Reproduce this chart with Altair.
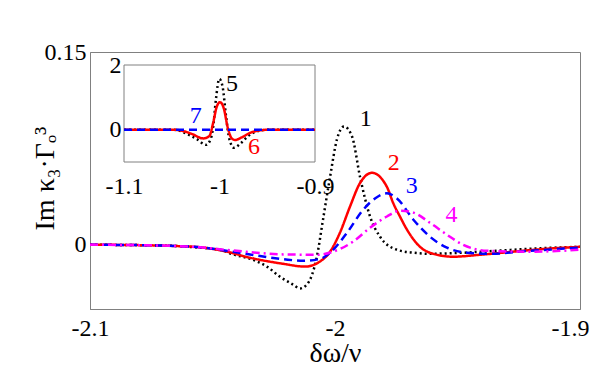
import altair as alt
import pandas as pd

# ---------------- main plot data ----------------
main_x_ticks = [-2.1, -2.0, -1.9]
main_y_ticks = [0, 0.15]
main_x_domain = [-2.1, -1.9]
main_y_domain = [-0.05, 0.15]

x1 = [-2.1, -2.08, -2.065, -2.055, -2.047, -2.0416, -2.0335, -2.0278, -2.0224, -2.0171,
      -2.0143, -2.0115, -2.0095, -2.0074, -2.0049, -2.002, -1.9992, -1.9963, -1.993, -1.9898,
      -1.9857, -1.9816, -1.9747, -1.968, -1.9612, -1.9478, -1.934, -1.9204, -1.9]
y1 = [0, -0.0003, -0.001, -0.0023, -0.0039, -0.0075, -0.0117, -0.017, -0.025, -0.031,
      -0.034, -0.031, -0.024, -0.0093, 0.0195, 0.053, 0.082, 0.092, 0.084, 0.053,
      0.022, 0.0062, -0.0039, -0.0062, -0.007, -0.0062, -0.0047, -0.0031, -0.0016]

x2 = [-2.1, -2.08, -2.065, -2.055, -2.045, -2.0347, -2.0212, -2.0122, -2.0061, -2.002,
      -1.998, -1.9939, -1.9898, -1.9849, -1.9788, -1.9763, -1.9735, -1.9706, -1.9653, -1.96,
      -1.9518, -1.9408, -1.9273, -1.9135, -1.9]
y2 = [0, -0.0003, -0.001, -0.002, -0.005, -0.0101, -0.0148, -0.017, -0.013, -0.0054,
      0.0093, 0.0296, 0.048, 0.056, 0.045, 0.0327, 0.022, 0.0117, -0.0016, -0.007,
      -0.0093, -0.0078, -0.0054, -0.0031, -0.0016]

x3 = [-2.1, -2.08, -2.065, -2.055, -2.0416, -2.0212, -2.013, -2.006, -2.002, -1.9951,
      -1.9886, -1.9829, -1.9788, -1.9747, -1.968, -1.9612, -1.9543, -1.9461, -1.9367, -1.9204,
      -1.9]
y3 = [0, -0.0003, -0.001, -0.002, -0.0055, -0.0112, -0.0125, -0.011, -0.0062, 0.0093,
      0.027, 0.037, 0.040, 0.036, 0.0195, 0.0062, -0.0023, -0.0062, -0.007, -0.0047,
      -0.0023]

x4 = [-2.1, -2.08, -2.065, -2.055, -2.0416, -2.0212, -2.0074, -2.0008, -1.9927, -1.9857,
      -1.9788, -1.9735, -1.968, -1.9612, -1.9543, -1.9478, -1.938, -1.9204, -1.9]
y4 = [0, -0.0003, -0.001, -0.002, -0.0045, -0.0075, -0.0078, -0.0054, 0.0023, 0.0132,
      0.022, 0.0265, 0.025, 0.017, 0.0078, 0.0, -0.0047, -0.0054, -0.0039]

main_label_text = ["1", "2", "3", "4"]
main_label_x = [-1.9875, -1.976, -1.9687, -1.9524]
main_label_y = [0.098, 0.064, 0.046, 0.0233]

# ---------------- inset data ----------------
inset_x_ticks = [-1.1, -1.0, -0.9]
inset_y_ticks = [0, 2]
inset_x_domain = [-1.1, -0.9]
inset_y_domain = [-1, 2]

x5 = [-1.1, -1.05, -1.0448, -1.0343, -1.0239, -1.0141, -1.0092, -1.0065, -1.0037, -1.0002,
      -0.9967, -0.9932, -0.9897, -0.9848, -0.9785, -0.9698, -0.9576, -0.95, -0.9]
y5 = [0, 0, -0.01, -0.13, -0.29, -0.47, -0.29, 0.12, 0.95, 1.57,
      1.32, 0.43, -0.29, -0.56, -0.44, -0.19, -0.03, 0, 0]

x6 = [-1.1, -1.05, -1.0414, -1.0291, -1.017, -1.0107, -1.0065, -1.003, -0.9995, -0.9953,
      -0.9918, -0.9872, -0.9838, -0.9768, -0.9681, -0.9541, -0.95, -0.9]
y6 = [0, 0, -0.02, -0.13, -0.27, -0.2, 0.23, 0.7, 0.85, 0.64,
      0.12, -0.27, -0.32, -0.24, -0.1, -0.01, 0, 0]

x7 = [-1.1, -0.9]
y7 = [0, 0]

inset_label_text = ["5", "6", "7"]
inset_label_x = [-0.987, -0.9639, -1.025]
inset_label_y = [1.4, -0.55, 0.43]

# ---------------- styles ----------------
series_ids = ["1", "2", "3", "4", "5", "6", "7"]
series_colors = ["#000000", "#ff0000", "#0000ff", "#ff00ff", "#000000", "#ff0000", "#0000ff"]
series_dash = [[2, 3], [1, 0], [8, 5], [8, 4, 2, 4], [2, 3], [1, 0], [8, 5]]
FONT = "Liberation Serif"
GRAY = "#808080"
LBL = dict(labelFont=FONT, labelFontSize=24, labelColor="black", labelFontWeight="normal",
           labelFlush=False, labelOverlap=False)


def long_df(series):
    rows = []
    for sid, xs, ys in series:
        for i, (a, b) in enumerate(zip(xs, ys)):
            rows.append({"s": sid, "x": a, "y": b, "o": i})
    return pd.DataFrame(rows)


main_df = long_df([("1", x1, y1), ("2", x2, y2), ("3", x3, y3), ("4", x4, y4)])
inset_df = long_df([("5", x5, y5), ("6", x6, y6), ("7", x7, y7)])
main_lab = pd.DataFrame({"s": main_label_text, "x": main_label_x, "y": main_label_y})
inset_lab = pd.DataFrame({"s": inset_label_text, "x": inset_label_x, "y": inset_label_y})
inset_box = pd.DataFrame({"x": [inset_x_domain[0]], "x1": [inset_x_domain[1]],
                          "y": [inset_y_domain[0]], "y1": [inset_y_domain[1]]})

color_scale = alt.Scale(domain=series_ids, range=series_colors)
dash_scale = alt.Scale(domain=series_ids, range=series_dash)

W, H = 490, 257
mx = alt.Scale(domain=main_x_domain, nice=False, zero=False)
my = alt.Scale(domain=main_y_domain, nice=False, zero=False)
ix = alt.Scale(domain=inset_x_domain, range=[34, 225], nice=False, zero=False)
iy = alt.Scale(domain=inset_y_domain, range=[110, 13], nice=False, zero=False)

last_x = "datum.value == %s" % main_x_ticks[-1]
main_xaxis = alt.Axis(values=main_x_ticks, title="δω/ν", labelExpr="'' + datum.value",
                      labelPadding=7, titleY=52, titleBaseline="alphabetic",
                      titleFont=FONT, titleFontSize=28, titleFontWeight="normal",
                      titleColor="black",
                      labelAlign={"condition": {"test": last_x, "value": "right"},
                                  "value": "center"},
                      labelOffset={"condition": {"test": last_x, "value": 9}, "value": 0},
                      **LBL)
main_yaxis = alt.Axis(values=main_y_ticks, title="Im κ₃·Γₒ³", labelExpr="'' + datum.value",
                      labelPadding=4, titleX=-37, titleY=126, titleAngle=270,
                      titleAlign="center", titleBaseline="alphabetic",
                      titleFont=FONT, titleFontSize=28, titleFontWeight="normal",
                      titleColor="black", **LBL)

main_lines = alt.Chart(main_df).mark_line(strokeWidth=2.5, interpolate="monotone").encode(
    x=alt.X("x:Q", scale=mx, axis=main_xaxis),
    y=alt.Y("y:Q", scale=my, axis=main_yaxis),
    color=alt.Color("s:N", scale=color_scale, legend=None),
    strokeDash=alt.StrokeDash("s:N", scale=dash_scale, legend=None),
    order="o:Q",
)
main_text = alt.Chart(main_lab).mark_text(font=FONT, fontSize=24, align="center",
                                           baseline="middle").encode(
    x=alt.X("x:Q", scale=mx),
    y=alt.Y("y:Q", scale=my),
    text="s:N",
    color=alt.Color("s:N", scale=color_scale, legend=None),
)
main = alt.layer(main_lines, main_text)

inset_xaxis = alt.Axis(values=inset_x_ticks, title=None, orient="bottom", offset=-147,
                       labelExpr="'' + datum.value", labelPadding=12, domain=False, **LBL)
inset_yaxis = alt.Axis(values=inset_y_ticks, title=None, orient="left", offset=-34,
                       labelExpr="'' + datum.value", labelPadding=3, domain=False, **LBL)

inset_rect = alt.Chart(inset_box).mark_rect(fill="white", stroke=GRAY, strokeWidth=1).encode(
    x=alt.X("x:Q", scale=ix, axis=inset_xaxis),
    x2="x1:Q",
    y=alt.Y("y:Q", scale=iy, axis=inset_yaxis),
    y2="y1:Q",
)
inset_lines = alt.Chart(inset_df).mark_line(strokeWidth=2.5, interpolate="monotone").encode(
    x=alt.X("x:Q", scale=ix),
    y=alt.Y("y:Q", scale=iy),
    color=alt.Color("s:N", scale=color_scale, legend=None),
    strokeDash=alt.StrokeDash("s:N", scale=dash_scale, legend=None),
    order="o:Q",
)
inset_text = alt.Chart(inset_lab).mark_text(font=FONT, fontSize=24, align="center",
                                             baseline="middle").encode(
    x=alt.X("x:Q", scale=ix),
    y=alt.Y("y:Q", scale=iy),
    text="s:N",
    color=alt.Color("s:N", scale=color_scale, legend=None),
)
inset = alt.layer(inset_rect, inset_lines, inset_text)

chart = alt.layer(main, inset).resolve_scale(x="independent", y="independent").properties(
    width=W, height=H,
    autosize=alt.AutoSizeParams(type="none"),
    padding={"left": 82, "top": 44, "right": 10, "bottom": 63},
    background="white",
).configure_axis(
    grid=False, ticks=False, domainColor=GRAY, **LBL,
).configure_view(stroke=GRAY, strokeWidth=1)

chart.save("out.html", embed_options={"renderer": "svg", "actions": False})
